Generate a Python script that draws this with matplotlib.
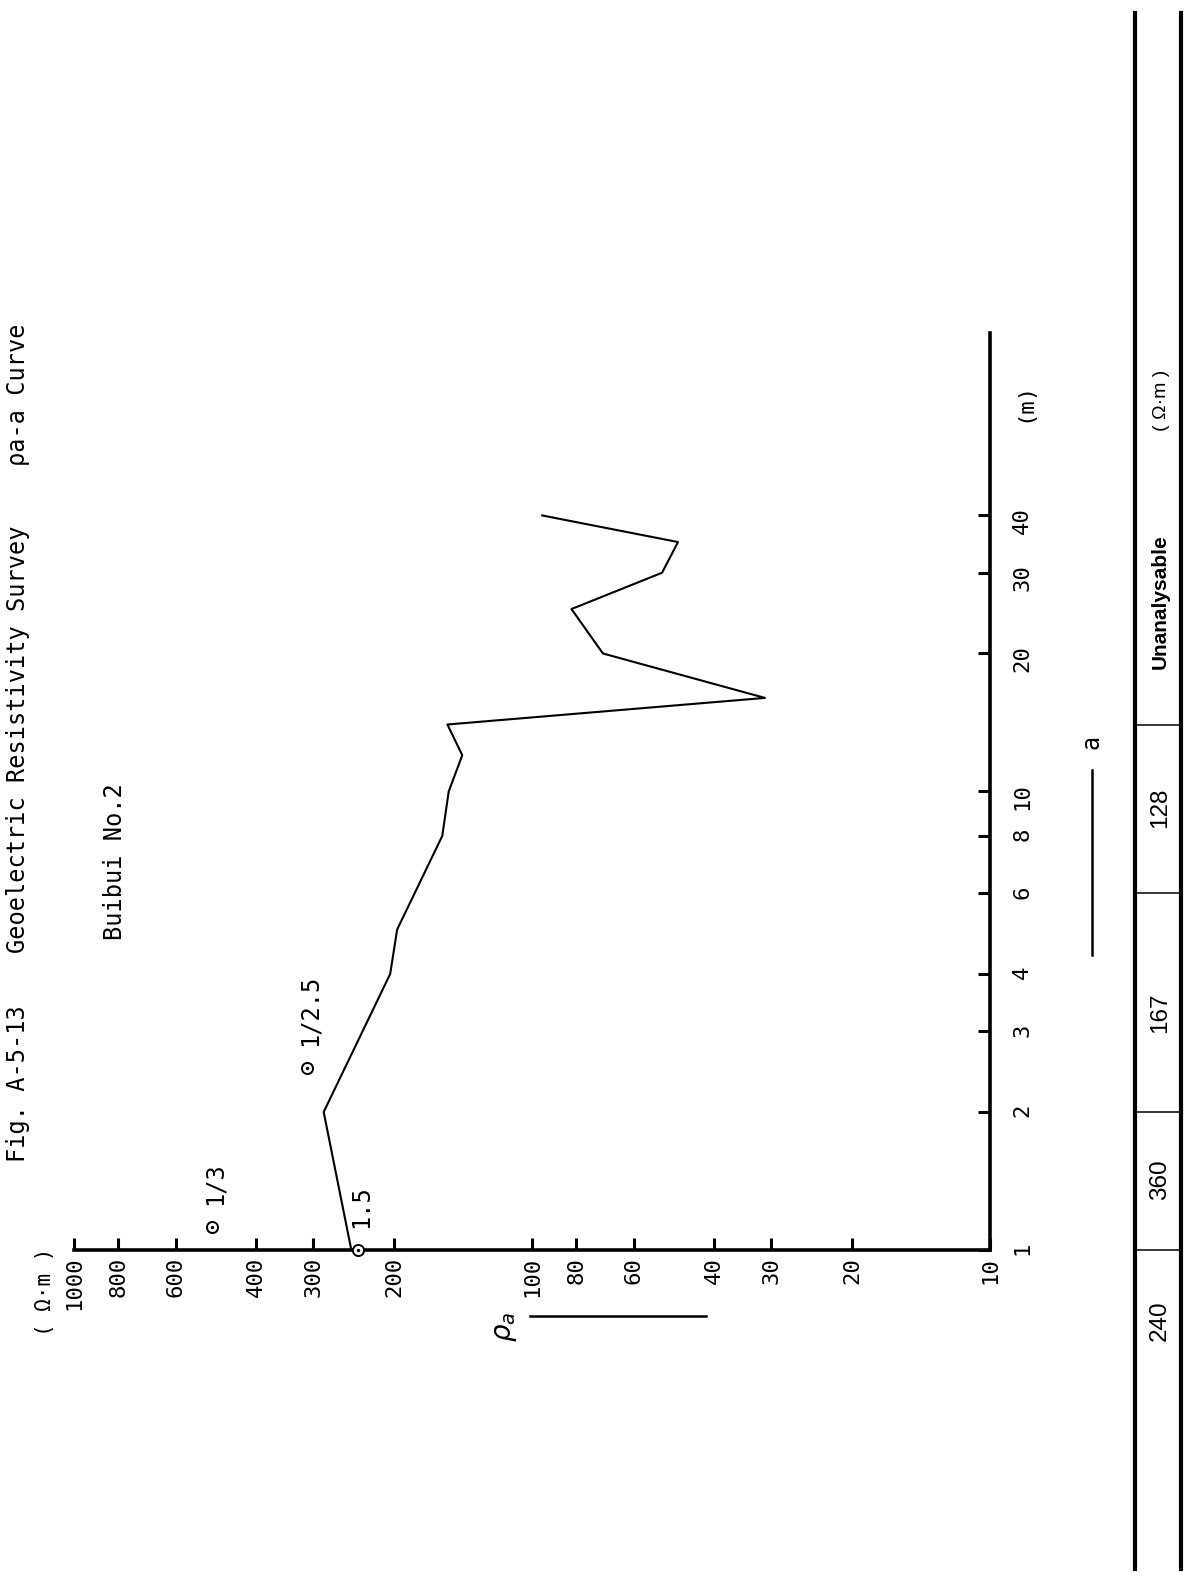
import matplotlib
matplotlib.use("Agg")
import matplotlib.pyplot as plt
from matplotlib.lines import Line2D
from matplotlib.transforms import blended_transform_factory
from matplotlib.ticker import FixedLocator, FixedFormatter, NullLocator

# Wenner sounding at Buibui No.2: electrode spacing a (m) vs apparent resistivity (ohm-m)
spacing_a = [1, 2, 4, 5, 8, 10, 12, 14, 16, 20, 25, 30, 35, 40]
rho_a = [248, 285, 204, 197, 157, 152, 142, 153, 31, 70, 82, 52, 48, 95]

rho_ticks = [1000, 800, 600, 400, 300, 200, 100, 80, 60, 40, 30, 20, 10]
a_ticks = [1, 2, 3, 4, 6, 8, 10, 20, 30, 40]

# auxiliary points used in the curve matching
aux_rho = [240, 500, 310]
aux_a = [1.0, 1.12, 2.5]
aux_labels = ["1.5", "1/3", "1/2.5"]

# interpreted layers (boundaries in m) and their resistivities
layer_bounds = [1, 2, 6, 14]
layer_rho = ["240", "360", "167", "128", "Unanalysable"]

W, H, DPI = 1197, 1589, 100
plt.rcParams["font.family"] = ["DejaVu Sans Mono", "DejaVu Sans"]

fig = plt.figure(figsize=(W / DPI, H / DPI), dpi=DPI)
fig.patch.set_facecolor("white")


def fx(px):
    return px / W


def fy(py):
    return 1 - py / H


# page is laid out sideways: rho runs left-to-right (1000 -> 10), a runs upward
X0, X1 = 74, 990
Y0, Y1 = 1250, 333
ax = fig.add_axes([fx(X0), fy(Y0), (X1 - X0) / W, (Y0 - Y1) / H])
ax.set_xscale("log")
ax.set_yscale("log")
ax.set_xlim(1000, 10)
ax.set_ylim(1, 100)
ax.patch.set_visible(False)
for s in ("top", "left"):
    ax.spines[s].set_visible(False)
for s in ("bottom", "right"):
    ax.spines[s].set_linewidth(2.6)

ax.xaxis.set_major_locator(FixedLocator(rho_ticks))
ax.xaxis.set_major_formatter(FixedFormatter([str(v) for v in rho_ticks]))
ax.xaxis.set_minor_locator(NullLocator())
ax.yaxis.tick_right()
ax.yaxis.set_major_locator(FixedLocator(a_ticks))
ax.yaxis.set_major_formatter(FixedFormatter([str(v) for v in a_ticks]))
ax.yaxis.set_minor_locator(NullLocator())
ax.tick_params(axis="x", direction="in", length=9, width=2.2, pad=5,
               labelrotation=90, labelsize=16)
ax.tick_params(axis="y", direction="in", length=9, width=2.2, pad=16,
               labelrotation=90, labelsize=16)

# apparent resistivity curve
ax.plot(rho_a, spacing_a, color="black", lw=1.5, clip_on=False, zorder=2)

# auxiliary points with their ratio labels
ax.plot(aux_rho, aux_a, "o", mfc="white", mec="black", ms=8, mew=1.4,
        clip_on=False, zorder=3)
ax.plot(aux_rho, aux_a, ".", color="black", ms=3, clip_on=False, zorder=4)
for r, a, lbl in zip(aux_rho, aux_a, aux_labels):
    ax.annotate(lbl, (r, a), xytext=(3, 22), textcoords="offset pixels",
                rotation=90, ha="center", va="bottom", fontsize=17)

# title lines, running up the left edge
title_kw = dict(rotation=90, rotation_mode="anchor", ha="left",
                va="baseline", fontsize=17)
fig.text(fx(25), fy(1162), "Fig. A-5-13", **title_kw)
fig.text(fx(25), fy(953), "Geoelectric Resistivity Survey", **title_kw)
fig.text(fx(25), fy(466), "ρa-a Curve", **title_kw)
fig.text(fx(122), fy(940), "Buibui No.2", **title_kw)

# axis captions
fig.text(fx(45), fy(1292), "( Ω·m )", rotation=90, ha="center", va="center",
         fontsize=15)
fig.text(fx(505), fy(1327), r"$\rho_a$", rotation=90, ha="center",
         va="center", fontsize=20)
fig.add_artist(Line2D([fx(530), fx(706)], [fy(1316), fy(1316)],
                      color="black", lw=1.8))
fig.text(fx(1092), fy(742), "a", rotation=90, ha="center", va="center",
         fontsize=17)
fig.add_artist(Line2D([fx(1092), fx(1092)], [fy(770), fy(955)],
                      color="black", lw=1.8))
fig.text(fx(1024), fy(402), "(m)", rotation=90, ha="center", va="center",
         fontsize=16)

# layer table along the right edge, sharing the spacing scale
TL, TR = 1135, 1181
fig.add_artist(Line2D([fx(TL), fx(TL)], [fy(13), fy(1569)], color="black",
                      lw=3.0))
fig.add_artist(Line2D([fx(TR), fx(TR)], [fy(13), fy(1569)], color="black",
                      lw=3.0))
blend = blended_transform_factory(fig.transFigure, ax.transData)
for b in layer_bounds:
    ax.plot([fx(TL), fx(TR)], [b, b], transform=blend, color="black",
            lw=1.1, clip_on=False)
label_a = [0.7, 1.42, 3.3, 9.2, 26]
for val, ya in zip(layer_rho, label_a):
    bold = val == "Unanalysable"
    ax.text(fx(1160), ya, val, transform=blend, rotation=90, ha="center",
            va="center", fontsize=15 if bold else 17.5,
            fontweight="bold" if bold else "normal",
            family=["Liberation Sans", "DejaVu Sans"], clip_on=False)
fig.text(fx(1161), fy(400), "( Ω·m )", rotation=90, ha="center",
         va="center", fontsize=14, family=["Liberation Sans", "DejaVu Sans"])

fig.savefig("out.png", dpi=DPI, facecolor="white")
